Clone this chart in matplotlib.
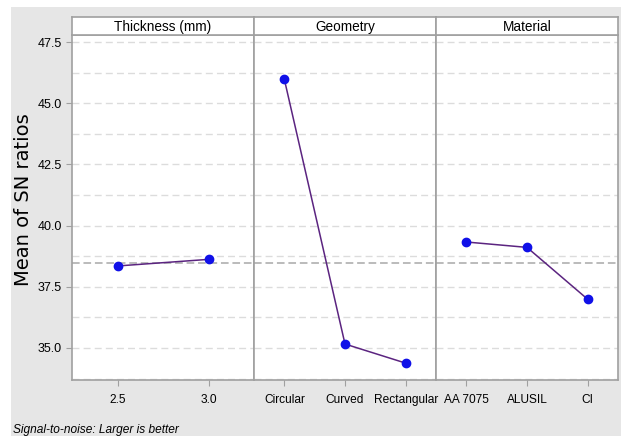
import matplotlib
matplotlib.use("Agg")
import matplotlib.pyplot as plt
from matplotlib.patches import Rectangle
from matplotlib.ticker import MultipleLocator

# Datos del grafico de efectos principales (SN ratios)
factors = ["Thickness (mm)", "Geometry", "Material"]
thickness_levels = ["2.5", "3.0"]
thickness_sn = [38.35, 38.62]
geometry_levels = ["Circular", "Curved", "Rectangular"]
geometry_sn = [45.98, 35.16, 34.38]
material_levels = ["AA 7075", "ALUSIL", "CI"]
material_sn = [39.33, 39.11, 36.99]
y_ticks = [35.0, 37.5, 40.0, 42.5, 45.0, 47.5]

levels = [thickness_levels, geometry_levels, material_levels]
values = [thickness_sn, geometry_sn, material_sn]
grand_mean = sum(thickness_sn) / len(thickness_sn)

narrow = ["Liberation Sans Narrow", "Liberation Sans", "DejaVu Sans"]
grey_bg = "#e6e6e6"
spine_c = "#a0a0a0"

W, H = 621, 436
fig = plt.figure(figsize=(W / 100, H / 100), dpi=100, facecolor="white")
fig.patches.append(Rectangle((11 / W, 0), 1, 1 - 7 / H, transform=fig.transFigure,
                             facecolor=grey_bg, edgecolor="none", zorder=-10))

left, pw = 72, 182
top, bottom, strip_top = 35, 380, 17

for i in range(3):
    x0 = (left + i * pw) / W
    ax = fig.add_axes([x0, (H - bottom) / H, pw / W, (bottom - top) / H])
    ax.set_facecolor("white")
    n = len(levels[i])
    xs = list(range(1, n + 1))
    ax.plot(xs, values[i], color="#5b2480", lw=1.1, zorder=3)
    ax.plot(xs, values[i], "o", color="#1010e8", ms=6, zorder=4)
    ax.axhline(grand_mean, color="#a8a8a8", ls=(0, (5, 2.5)), lw=1.1, zorder=2)
    ax.set_xlim(0.5, n + 0.5)
    ax.set_ylim(33.69, 47.79)
    ax.set_xticks(xs)
    ax.set_xticklabels(levels[i], family=narrow, fontsize=8.6)
    ax.yaxis.set_major_locator(MultipleLocator(2.5))
    ax.yaxis.set_minor_locator(MultipleLocator(1.25))
    ax.grid(True, which="both", axis="y", color="#dcdcdc", ls=(0, (5, 3)), lw=1.0, zorder=1)
    ax.tick_params(axis="x", length=4, color=spine_c, pad=6)
    ax.tick_params(axis="y", which="major", length=4, color=spine_c)
    ax.tick_params(axis="y", which="minor", length=0)
    if i == 0:
        ax.set_yticks(y_ticks)
        ax.set_yticklabels([f"{v:.1f}" for v in y_ticks], family=narrow, fontsize=9)
    else:
        ax.tick_params(axis="y", which="major", length=0, labelleft=False)
    for s in ax.spines.values():
        s.set_color(spine_c)
        s.set_linewidth(1.2)

    # Encabezado del panel
    hx = fig.add_axes([x0, (H - top) / H, pw / W, (top - strip_top) / H])
    hx.set_facecolor("white")
    hx.set_xticks([])
    hx.set_yticks([])
    for s in hx.spines.values():
        s.set_color(spine_c)
        s.set_linewidth(1.2)
    hx.text(0.5, 0.45, factors[i], ha="center", va="center", family=narrow,
            fontsize=9.8, transform=hx.transAxes)

fig.text(24 / W, 1 - 200 / H, "Mean of SN ratios", rotation=90, ha="center",
         va="center", fontsize=14)
fig.text(13 / W, 1 - 430 / H, "Signal-to-noise: Larger is better", family=narrow,
         style="italic", fontsize=8.6, va="center", ha="left")

fig.savefig("out.png", dpi=100, facecolor=fig.get_facecolor())
